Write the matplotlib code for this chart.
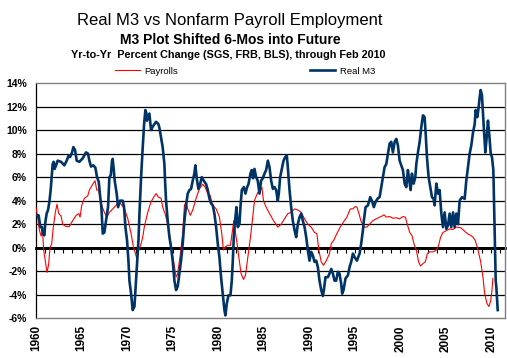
import matplotlib.pyplot as plt
from matplotlib.ticker import FuncFormatter

plt.rcParams['font.family'] = ['Liberation Sans', 'DejaVu Sans']

# payrolls, yr-to-yr % change
payroll_year = [1960.00, 1960.18, 1960.37, 1960.55, 1960.73, 1960.84, 1961.03, 1961.21, 1961.39, 1961.54,
                1961.72, 1961.90, 1962.12, 1962.31, 1962.49, 1962.75, 1962.93, 1963.30, 1963.66, 1964.03,
                1964.40, 1964.69, 1964.84, 1965.02, 1965.31, 1965.68, 1965.86, 1966.23, 1966.48, 1966.67,
                1966.89, 1967.03, 1967.22, 1967.51, 1967.77, 1968.06, 1968.42, 1968.79, 1969.08, 1969.34,
                1969.71, 1970.07, 1970.44, 1970.70, 1970.92, 1971.06, 1971.28, 1971.54, 1971.72, 1971.90,
                1972.27, 1972.63, 1972.93, 1973.18, 1973.44, 1973.73, 1973.91, 1974.17, 1974.46, 1974.65,
                1974.90, 1975.12, 1975.38, 1975.56, 1975.86, 1976.11, 1976.30, 1976.48, 1976.66, 1976.95,
                1977.21, 1977.58, 1977.94, 1978.31, 1978.57, 1978.86, 1979.12, 1979.41, 1979.78, 1980.14,
                1980.40, 1980.58, 1980.76, 1981.06, 1981.35, 1981.53, 1981.72, 1981.86, 1982.08, 1982.27,
                1982.52, 1982.78, 1983.00, 1983.26, 1983.55, 1983.80, 1983.99, 1984.35, 1984.65, 1984.80,
                1984.98, 1985.27, 1985.64, 1986.08, 1986.55, 1986.92, 1987.29, 1987.65, 1988.02, 1988.39,
                1988.75, 1989.12, 1989.49, 1989.85, 1990.22, 1990.58, 1990.84, 1991.06, 1991.32, 1991.57,
                1991.87, 1992.23, 1992.42, 1992.67, 1993.04, 1993.40, 1993.77, 1994.14, 1994.50, 1994.80,
                1995.05, 1995.24, 1995.46, 1995.71, 1996.08, 1996.33, 1996.63, 1996.99, 1997.36, 1997.73,
                1997.91, 1998.21, 1998.46, 1998.83, 1999.19, 1999.56, 1999.93, 2000.29, 2000.55, 2000.77,
                2001.03, 2001.28, 2001.50, 2001.76, 2002.01, 2002.23, 2002.49, 2002.75, 2002.97, 2003.22,
                2003.59, 2003.96, 2004.21, 2004.43, 2004.69, 2005.06, 2005.42, 2005.79, 2006.15, 2006.63,
                2006.99, 2007.36, 2007.73, 2007.99, 2008.24, 2008.54, 2008.83, 2009.08, 2009.27, 2009.52,
                2009.74, 2009.93, 2010.07, 2010.17]
payroll_pct = [3.4, 2.6, 1.5, 1.0, 1.3, -0.2, -1.2, -2.1, -1.4, 0.05,
               0.3, 1.75, 3.0, 3.7, 2.9, 2.7, 2.0, 1.8, 1.8, 2.3,
               2.75, 2.9, 2.6, 3.6, 4.2, 4.4, 4.9, 5.4, 5.7, 4.9,
               4.9, 4.2, 3.6, 3.0, 2.6, 3.0, 3.3, 3.6, 3.9, 3.7,
               3.3, 2.5, 1.2, 0.05, -0.5, -0.9, -0.2, 0.35, 0.9, 1.8,
               3.0, 3.9, 4.3, 4.6, 4.3, 4.2, 3.45, 2.9, 2.0, 1.2,
               -0.2, -1.2, -2.5, -2.2, -0.5, 1.2, 3.6, 3.9, 3.3, 2.75,
               3.2, 4.2, 5.0, 5.4, 5.15, 4.6, 4.45, 3.6, 3.3, 2.6,
               1.2, -0.2, 0.05, 0.2, 0.2, 1.2, 2.3, 1.5, 0.35, -0.8,
               -2.2, -2.7, -2.35, -0.8, 0.9, 2.6, 4.0, 4.7, 4.9, 5.15,
               4.0, 3.45, 2.9, 2.3, 1.75, 2.0, 2.45, 2.9, 3.0, 3.3,
               3.2, 3.0, 2.45, 2.0, 1.75, 1.3, 1.2, -0.2, -1.2, -1.5,
               -1.1, -0.5, 0.35, 0.6, 1.2, 1.75, 2.2, 2.6, 3.3, 3.3,
               3.5, 3.45, 2.9, 2.2, 1.75, 1.75, 2.0, 2.3, 2.45, 2.6,
               2.65, 2.8, 2.6, 2.65, 2.5, 2.55, 2.45, 2.65, 2.6, 2.0,
               1.3, 1.05, 0.35, -0.2, -1.2, -1.55, -1.35, -1.2, -0.5, -0.35,
               -0.35, -0.2, 0.2, 0.9, 1.3, 1.45, 1.6, 1.55, 1.75, 1.7,
               1.45, 1.2, 1.05, 0.9, 0.6, -0.2, -1.2, -2.5, -3.9, -4.75,
               -5.0, -4.5, -3.6, -2.6]

# real M3, yr-to-yr % change, shifted 6 months ahead
m3_year = [1960.00, 1960.29, 1960.48, 1960.66, 1960.73, 1960.92, 1961.03, 1961.17, 1961.32, 1961.47,
           1961.61, 1961.72, 1961.83, 1961.94, 1962.05, 1962.20, 1962.38, 1962.75, 1963.11, 1963.37,
           1963.59, 1963.74, 1963.96, 1964.10, 1964.29, 1964.47, 1964.76, 1965.13, 1965.31, 1965.49,
           1965.71, 1965.86, 1966.04, 1966.30, 1966.52, 1966.70, 1966.89, 1967.03, 1967.18, 1967.33,
           1967.51, 1967.69, 1967.91, 1968.06, 1968.21, 1968.35, 1968.42, 1968.53, 1968.64, 1968.86,
           1969.01, 1969.23, 1969.52, 1969.67, 1969.82, 1970.00, 1970.15, 1970.26, 1970.44, 1970.62,
           1970.81, 1970.92, 1971.06, 1971.25, 1971.36, 1971.54, 1971.72, 1971.87, 1972.01, 1972.10,
           1972.19, 1972.45, 1972.63, 1972.82, 1973.00, 1973.18, 1973.44, 1973.55, 1973.73, 1973.91,
           1974.10, 1974.17, 1974.28, 1974.46, 1974.65, 1974.83, 1975.01, 1975.20, 1975.38, 1975.56,
           1975.75, 1975.93, 1976.11, 1976.30, 1976.48, 1976.66, 1976.85, 1977.03, 1977.21, 1977.39,
           1977.50, 1977.65, 1977.83, 1978.02, 1978.20, 1978.42, 1978.68, 1978.86, 1979.04, 1979.23,
           1979.41, 1979.59, 1979.78, 1979.96, 1980.14, 1980.32, 1980.51, 1980.69, 1980.80, 1980.95,
           1981.13, 1981.35, 1981.50, 1981.61, 1981.72, 1981.86, 1982.01, 1982.16, 1982.34, 1982.45,
           1982.60, 1982.82, 1983.00, 1983.18, 1983.33, 1983.55, 1983.69, 1983.84, 1983.99, 1984.17,
           1984.35, 1984.54, 1984.72, 1984.91, 1985.09, 1985.27, 1985.46, 1985.64, 1985.82, 1986.01,
           1986.19, 1986.37, 1986.55, 1986.66, 1986.81, 1987.03, 1987.18, 1987.36, 1987.54, 1987.65,
           1987.84, 1988.02, 1988.20, 1988.39, 1988.57, 1988.75, 1988.94, 1989.12, 1989.30, 1989.49,
           1989.67, 1989.85, 1990.03, 1990.22, 1990.40, 1990.58, 1990.77, 1990.95, 1991.13, 1991.32,
           1991.50, 1991.61, 1991.79, 1992.05, 1992.23, 1992.42, 1992.60, 1992.78, 1992.96, 1993.15,
           1993.33, 1993.51, 1993.62, 1993.77, 1993.99, 1994.25, 1994.43, 1994.61, 1994.80, 1994.98,
           1995.24, 1995.53, 1995.71, 1995.90, 1996.00, 1996.19, 1996.45, 1996.70, 1996.88, 1997.10,
           1997.29, 1997.54, 1997.73, 1997.91, 1998.10, 1998.28, 1998.46, 1998.65, 1998.83, 1999.01,
           1999.19, 1999.38, 1999.56, 1999.74, 1999.93, 2000.11, 2000.29, 2000.48, 2000.66, 2000.84,
           2000.99, 2001.14, 2001.28, 2001.47, 2001.65, 2001.76, 2001.94, 2002.13, 2002.31, 2002.49,
           2002.67, 2002.78, 2002.93, 2003.11, 2003.30, 2003.48, 2003.66, 2003.77, 2003.96, 2004.14,
           2004.32, 2004.51, 2004.69, 2004.87, 2005.06, 2005.24, 2005.42, 2005.60, 2005.79, 2005.97,
           2006.15, 2006.34, 2006.52, 2006.78, 2007.07, 2007.25, 2007.44, 2007.62, 2007.80, 2007.99,
           2008.17, 2008.28, 2008.46, 2008.61, 2008.72, 2008.83, 2008.97, 2009.08, 2009.19, 2009.34,
           2009.49, 2009.63, 2009.78, 2009.93, 2010.07, 2010.22, 2010.33, 2010.42, 2010.48, 2010.55,
           2010.62, 2010.70]
m3_pct = [2.75, 2.75, 1.75, 1.75, 1.2, 1.05, 2.2, 2.9, 3.2, 3.9,
          4.9, 6.0, 7.1, 7.3, 6.7, 7.0, 7.4, 7.3, 7.0, 7.4,
          7.85, 7.7, 8.1, 8.55, 8.3, 7.4, 7.3, 7.6, 7.85, 8.1,
          8.0, 7.4, 6.9, 7.0, 6.8, 6.0, 5.6, 4.45, 3.45, 1.2,
          1.3, 2.3, 3.45, 6.0, 6.15, 7.4, 7.55, 6.7, 5.7, 4.6,
          3.45, 4.0, 4.0, 3.45, 1.75, 0.6, -1.1, -2.8, -3.9, -5.3,
          -5.0, -3.6, -1.8, 0.6, 2.9, 6.0, 8.55, 10.5, 11.7, 11.5,
          10.8, 11.4, 10.0, 10.3, 10.5, 10.7, 10.5, 10.2, 9.4, 8.55,
          7.1, 5.7, 4.0, 2.3, 0.9, 0.05, -1.1, -2.8, -3.6, -3.3,
          -2.2, -1.1, 0.35, 2.3, 3.6, 4.6, 4.9, 5.0, 5.7, 6.3,
          7.0, 5.9, 5.0, 5.4, 6.0, 5.7, 5.4, 4.9, 4.2, 3.75,
          3.6, 2.9, 1.75, 0.35, -0.8, -2.5, -3.9, -5.3, -5.75, -4.75,
          -4.05, -4.05, -2.8, -1.1, 0.9, 2.3, 3.45, 1.75, 2.0, 3.45,
          4.9, 5.15, 4.6, 5.15, 5.4, 6.3, 6.6, 5.9, 6.7, 6.0,
          5.7, 4.6, 5.7, 5.9, 6.3, 6.6, 7.4, 6.85, 5.7, 5.0,
          5.15, 4.9, 4.0, 4.6, 6.0, 6.85, 7.4, 7.7, 7.85, 6.85,
          4.9, 3.45, 2.3, 1.5, 0.9, 2.0, 2.6, 2.9, 2.3, 1.75,
          0.9, -0.2, -1.1, -0.35, -0.65, -1.2, -1.1, -1.65, -2.8, -3.6,
          -4.1, -3.6, -2.5, -2.5, -2.2, -1.8, -2.2, -2.8, -2.8, -2.05,
          -2.2, -3.05, -3.9, -3.6, -2.6, -2.35, -1.65, -1.2, -0.5, -0.8,
          -1.1, -0.5, 0.35, 1.5, 2.3, 3.45, 3.6, 4.3, 4.0, 3.45,
          3.9, 4.2, 4.3, 5.15, 6.0, 6.85, 7.1, 8.0, 8.85, 9.0,
          8.1, 9.0, 9.25, 8.7, 7.4, 7.0, 6.6, 5.45, 5.15, 6.6,
          5.7, 4.9, 6.3, 5.45, 6.0, 7.1, 8.1, 9.0, 10.25, 11.25,
          11.1, 9.8, 7.7, 6.0, 5.15, 4.3, 4.15, 3.6, 5.45, 4.6,
          4.9, 2.9, 1.75, 3.0, 1.6, 1.9, 2.9, 1.75, 3.0, 1.75,
          2.9, 2.0, 4.0, 4.3, 4.15, 5.7, 6.85, 8.0, 8.7, 9.8,
          10.5, 11.7, 11.1, 11.95, 12.8, 13.4, 12.95, 11.4, 10.0, 8.1,
          9.4, 10.8, 9.55, 8.0, 7.7, 6.6, 2.6, -0.5, -2.8, -3.35,
          -4.2, -5.3]

year_ticks = list(range(1960, 2011, 5))
pct_ticks = list(range(-6, 15, 2))

fig = plt.figure(figsize=(5.07, 3.58), dpi=100)
ax = fig.add_axes([36 / 507, 1 - 318.3 / 358, (505 - 36) / 507, (318.3 - 83) / 358])

# gridlines every 2%, thick line at zero
for v in pct_ticks[1:-1]:
    ax.axhline(v, color='black', lw=2 if v == 0 else 0.9, zorder=1)

ax.plot(payroll_year, payroll_pct, color='#ff0000', lw=0.8, label='Payrolls', zorder=3)
ax.plot(m3_year, m3_pct, color='#003366', lw=1.9, label='Real M3', zorder=4)

ax.set_xlim(1960, 2011.5)
ax.set_ylim(-6, 14)
ax.set_yticks(pct_ticks)
ax.yaxis.set_major_formatter(FuncFormatter(lambda v, p: f'{v:.0f}%'))
ax.set_xticks(year_ticks)
ax.tick_params(axis='y', length=0, pad=6.5, labelsize=7.5)
ax.tick_params(axis='x', length=0, pad=5, labelsize=8.5, labelrotation=90)
for lbl in ax.get_xticklabels() + ax.get_yticklabels():
    lbl.set_fontweight('bold')

for s in ['top', 'right', 'bottom']:
    ax.spines[s].set_color('#808080')
    ax.spines[s].set_linewidth(1)
ax.spines['left'].set_color('black')
ax.spines['left'].set_linewidth(0.9)

# small yearly ticks hanging from the zero line
zero_axis = ax.secondary_xaxis(6 / 20)
zero_axis.set_xticks(list(range(1960, 2012)))
zero_axis.tick_params(direction='out', length=3.5, width=0.8, labelbottom=False, labeltop=False)
zero_axis.spines['bottom'].set_linewidth(2)

fig.text(230 / 507, 1 - 21 / 358, 'Real M3 vs Nonfarm Payroll Employment',
         ha='center', va='center', fontsize=12)
fig.text(230 / 507, 1 - 40 / 358, 'M3 Plot Shifted 6-Mos into Future',
         ha='center', va='center', fontsize=10, fontweight='bold')
fig.text(228 / 507, 1 - 55.5 / 358, 'Yr-to-Yr  Percent Change (SGS, FRB, BLS), through Feb 2010',
         ha='center', va='center', fontsize=7.8, fontweight='bold')

fig.legend(loc='center', bbox_to_anchor=(245 / 507, 1 - 71 / 358), ncol=2, frameon=False,
           fontsize=6.8, handlelength=2.6, handletextpad=0.5, columnspacing=14)

fig.savefig('out.png', dpi=100)
